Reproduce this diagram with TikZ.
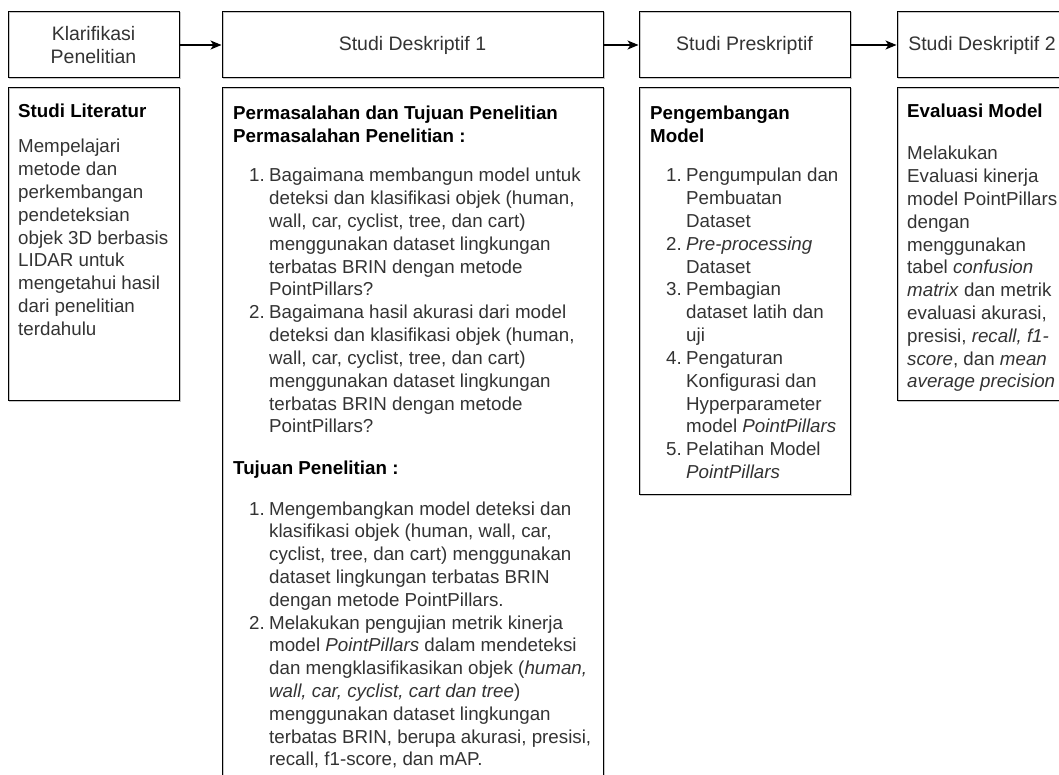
\documentclass[tikz,border=0pt]{standalone}
\usepackage{fontspec}
\setmainfont{Liberation Sans}
\usetikzlibrary{arrows.meta}
\definecolor{tgray}{HTML}{333333}
\newcommand\bodyfont{\fontsize{18.75}{22.8}\selectfont}
\newcommand\headfont{\fontsize{19.5}{23}\selectfont}
\newcommand\ml[1]{\begin{tabular}[t]{@{}l@{}}#1\end{tabular}}
\begin{document}
\begin{tikzpicture}[x=1pt,y=-1pt,
  frame/.style={draw=black, line width=1pt, inner sep=0pt,
    preaction={draw=gray!45, line width=1pt, transform canvas={shift={(1pt,-1pt)}}}},
  head/.style={frame, minimum height=66pt, align=center, font=\headfont, text=tgray},
  txt/.style={inner sep=0pt, anchor=base west, font=\bodyfont, text=tgray},
  ttl/.style={txt, text=black, font=\bodyfont\bfseries},
  arr/.style={line width=1.2pt, -{Stealth[length=11pt,width=9pt,inset=3pt]}}]
\clip (0,0) rectangle (1059,775);
% header boxes
\node[head, minimum width=171pt] (h1) at (93.5,45) {Klarifikasi\\Penelitian};
\node[head, minimum width=381pt] (h2) at (412.5,45) {Studi Deskriptif 1};
\node[head, minimum width=211pt] (h3) at (744.5,45) {Studi Preskriptif};
\node[head, minimum width=170pt] (h4) at (982,45) {Studi Deskriptif 2};
% body boxes
\node[frame, minimum width=171pt, minimum height=312pt] (b1) at (93.5,244) {};
\node[frame, minimum width=381pt, minimum height=712pt] (b2) at (412.5,444) {};
\node[frame, minimum width=211pt, minimum height=406pt] (b3) at (744.5,291) {};
\node[frame, minimum width=170pt, minimum height=312pt] (b4) at (982,244) {};
% arrows
\draw[arr] (h1.east) -- (h2.west);
\draw[arr] (h2.east) -- (h3.west);
\draw[arr] (h3.east) -- (h4.west);
% box 1 text
\node[ttl] (t1) at (18,118) {Studi Literatur};
\node[txt] (p1) at (18,153) {\ml{Mempelajari\\metode dan\\perkembangan\\pendeteksian\\objek 3D berbasis\\LIDAR untuk\\mengetahui hasil\\dari penelitian\\terdahulu}};
% box 2 text
\node[ttl] (t2) at (233,120) {\ml{Permasalahan dan Tujuan Penelitian\\Permasalahan Penelitian :}};
\node[txt] (n21) at (249,182) {1.};
\node[txt] (i21) at (269,182) {\ml{Bagaimana membangun model untuk\\deteksi dan klasifikasi objek (human,\\wall, car, cyclist, tree, dan cart)\\menggunakan dataset lingkungan\\terbatas BRIN dengan metode\\PointPillars?}};
\node[txt] (n22) at (249,318.8) {2.};
\node[txt] (i22) at (269,318.8) {\ml{Bagaimana hasil akurasi dari model\\deteksi dan klasifikasi objek (human,\\wall, car, cyclist, tree, dan cart)\\menggunakan dataset lingkungan\\terbatas BRIN dengan metode\\PointPillars?}};
\node[ttl] (t2b) at (233,474) {Tujuan Penelitian :};
\node[txt] (n23) at (249,515) {1.};
\node[txt] (i23) at (269,515) {\ml{Mengembangkan model deteksi dan\\klasifikasi objek (human, wall, car,\\cyclist, tree, dan cart) menggunakan\\dataset lingkungan terbatas BRIN\\dengan metode PointPillars.}};
\node[txt] (n24) at (249,629) {2.};
\node[txt] (i24) at (269,629) {\ml{Melakukan pengujian metrik kinerja\\model \textit{PointPillars} dalam mendeteksi\\dan mengklasifikasikan objek (\textit{human,}\\\textit{wall, car, cyclist, cart dan tree})\\menggunakan dataset lingkungan\\terbatas BRIN, berupa akurasi, presisi,\\recall, f1-score, dan mAP.}};
% box 3 text
\node[ttl] (t3) at (650,120) {\ml{Pengembangan\\Model}};
\node[txt] (n31) at (666,182) {1.};
\node[txt] (i31) at (686,182) {\ml{Pengumpulan dan\\Pembuatan\\Dataset}};
\node[txt] (n32) at (666,250.4) {2.};
\node[txt] (i32) at (686,250.4) {\ml{\textit{Pre-processing}\\Dataset}};
\node[txt] (n33) at (666,296) {3.};
\node[txt] (i33) at (686,296) {\ml{Pembagian\\dataset latih dan\\uji}};
\node[txt] (n34) at (666,364.4) {4.};
\node[txt] (i34) at (686,364.4) {\ml{Pengaturan\\Konfigurasi dan\\Hyperparameter\\model \textit{PointPillars}}};
\node[txt] (n35) at (666,455.6) {5.};
\node[txt] (i35) at (686,455.6) {\ml{Pelatihan Model\\\textit{PointPillars}}};
% box 4 text
\node[ttl] (t4) at (907,118) {Evaluasi Model};
\node[txt] (p4) at (907,160) {\ml{Melakukan\\Evaluasi kinerja\\model PointPillars\\dengan\\menggunakan\\tabel \textit{confusion}\\\textit{matrix} dan metrik\\evaluasi akurasi,\\presisi, \textit{recall, f1-}\\\textit{score}, dan \textit{mean}\\\textit{average precision}}};
\end{tikzpicture}
\end{document}
